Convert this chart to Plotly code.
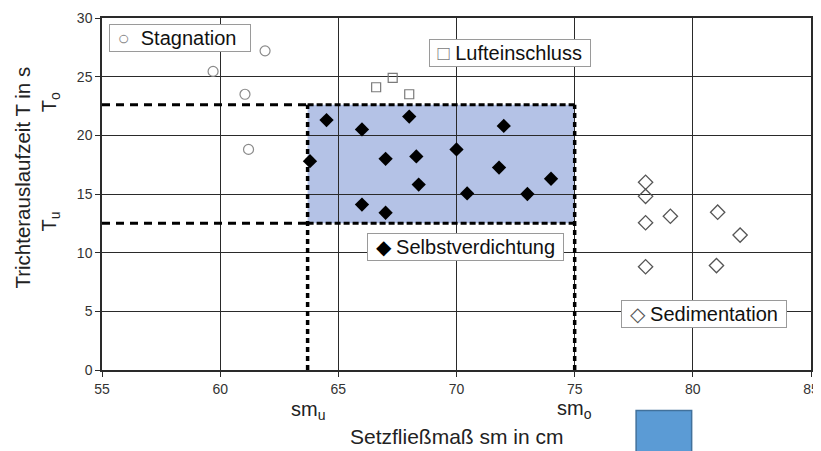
import plotly.graph_objects as go

# ---- data ----
stag_x = [59.7, 61.05, 61.2, 61.9]
stag_y = [25.45, 23.5, 18.8, 27.2]

luft_x = [66.6, 67.3, 68.0]
luft_y = [24.1, 24.9, 23.5]

selb_x = [63.8, 64.5, 66.0, 66.0, 67.0, 67.0, 68.0, 68.3, 68.4, 70.0, 70.45, 71.8, 72.0, 73.0, 74.0]
selb_y = [17.8, 21.3, 20.5, 14.1, 18.0, 13.4, 21.6, 18.2, 15.8, 18.8, 15.05, 17.25, 20.8, 15.0, 16.3]

sed_x = [78.0, 78.0, 78.0, 79.05, 81.05, 82.0, 78.0, 81.0]
sed_y = [16.0, 14.8, 12.55, 13.1, 13.45, 11.5, 8.8, 8.9]

sm_limits = [63.7, 75.0]   # sm_u, sm_o
t_limits = [12.5, 22.6]    # T_u, T_o

x_ticks = [55, 60, 65, 70, 75, 80, 85]
y_ticks = [0, 5, 10, 15, 20, 25, 30]

FONT = "Liberation Sans, Arial, sans-serif"
# the page places the figure 8px from the top-left corner (default body margin)
OFF = 8
W, H = 821 - OFF, 451 - OFF
ml, mr, mt, mb = 94, 8, 2, 81
pw, ph = W - ml - mr, H - mt - mb


def px(sx):
    return (sx - OFF - ml) / pw


def py(sy):
    return (H - mb - (sy - OFF)) / ph


fig = go.Figure()

fig.add_trace(go.Scatter(x=stag_x, y=stag_y, mode="markers", name="Stagnation",
                         marker=dict(symbol="circle-open", size=10, color="#8a8a8a", line=dict(width=1.2))))
fig.add_trace(go.Scatter(x=luft_x, y=luft_y, mode="markers", name="Lufteinschluss",
                         marker=dict(symbol="square-open", size=9, color="#7a7a7a", line=dict(width=1.2))))
fig.add_trace(go.Scatter(x=selb_x, y=selb_y, mode="markers", name="Selbstverdichtung",
                         marker=dict(symbol="diamond", size=11, color="#000000")))
fig.add_trace(go.Scatter(x=sed_x, y=sed_y, mode="markers", name="Sedimentation",
                         marker=dict(symbol="diamond-open", size=11, color="#555555", line=dict(width=1.3))))

smu, smo = sm_limits
tu, to = t_limits

shapes = [
    dict(type="rect", xref="x", yref="y", x0=smu, x1=smo, y0=tu, y1=to,
         fillcolor="#b4c2e6", line=dict(width=0), layer="below"),
    dict(type="line", xref="x", yref="y", x0=smu, x1=smo, y0=to, y1=to,
         line=dict(color="black", width=3, dash="6px,3px"), layer="between"),
    dict(type="line", xref="x", yref="y", x0=smu, x1=smo, y0=tu, y1=tu,
         line=dict(color="black", width=3, dash="6px,3px"), layer="between"),
    dict(type="line", xref="x", yref="y", x0=55, x1=smu, y0=to, y1=to,
         line=dict(color="black", width=3, dash="8px,6px"), layer="between"),
    dict(type="line", xref="x", yref="y", x0=55, x1=smu, y0=tu, y1=tu,
         line=dict(color="black", width=3, dash="8px,6px"), layer="between"),
    dict(type="line", xref="x", yref="y", x0=smu, x1=smu, y0=0, y1=to,
         line=dict(color="black", width=3.5, dash="5px,4px"), layer="between"),
    dict(type="line", xref="x", yref="y", x0=smo, x1=smo, y0=0, y1=to,
         line=dict(color="black", width=3.5, dash="5px,4px"), layer="between"),
    # stray blue square below the chart
    dict(type="rect", xref="x", yref="paper", x0=77.6, x1=79.95, y0=py(411.5), y1=py(455),
         fillcolor="#5b9bd5", line=dict(color="#41719c", width=1.5)),
]

SP = "&nbsp;"


def box(sx, sy, sym, sym_color, label, lpad=1, gap=1, rpad=1):
    return dict(x=px(sx), y=py(sy), xref="paper", yref="paper", showarrow=False,
                xanchor="center", yanchor="middle",
                text=f"{SP * lpad}<span style='color:{sym_color}'>{sym}</span>{SP * gap}{label}{SP * rpad}",
                font=dict(family=FONT, size=20, color="#111111"),
                bgcolor="white", bordercolor="#9a9a9a", borderwidth=1, borderpad=2)


def label(sx, sy, text, angle=0, size=20):
    return dict(x=px(sx), y=py(sy), xref="paper", yref="paper", showarrow=False,
                xanchor="center", yanchor="middle", text=text, textangle=angle,
                font=dict(family=FONT, size=size, color="#222222"))


annotations = [
    box(180.5, 30, "○", "#8a8a8a", "Stagnation", lpad=1, gap=2, rpad=2),
    box(511, 46, "□", "#7a7a7a", "Lufteinschluss"),
    box(467, 244, "◆", "#000000", "Selbstverdichtung"),
    box(706, 313, "◇", "#555555", "Sedimentation"),
    label(457.5, 438, "Setzfließmaß sm in cm", size=21),
    label(22, 173, "Trichterauslaufzeit T in s", angle=-90, size=20.5),
    label(309, 411, "sm<sub>u</sub>"),
    label(576, 410, "sm<sub>o</sub>"),
    label(50, 96, "T<sub>o</sub>", angle=-90),
    label(50, 218, "T<sub>u</sub>", angle=-90),
]

fig.update_layout(
    width=W, height=H,
    margin=dict(l=ml, r=mr, t=mt, b=mb),
    paper_bgcolor="white", plot_bgcolor="white",
    showlegend=False,
    font=dict(family=FONT, size=14, color="#333"),
    shapes=shapes, annotations=annotations,
)
axis_style = dict(showgrid=True, gridcolor="#2a2a2a", gridwidth=1.2,
                  showline=True, linecolor="#2a2a2a", linewidth=1.5, mirror=True,
                  ticks="outside", ticklen=5, tickcolor="#2a2a2a", zeroline=False,
                  ticklabeloverflow="allow",
                  tickfont=dict(family=FONT, size=14, color="#333"))
fig.update_xaxes(range=[55, 85], tickvals=x_ticks, **axis_style)
fig.update_yaxes(range=[0, 30], tickvals=y_ticks, **axis_style)

# let the top tick label ("30") draw into the page margin instead of being clipped
fig.write_html("out.html",
               config={"displayModeBar": False},
               post_script="document.querySelectorAll('.main-svg').forEach(function(s){s.style.overflow='visible';});")
